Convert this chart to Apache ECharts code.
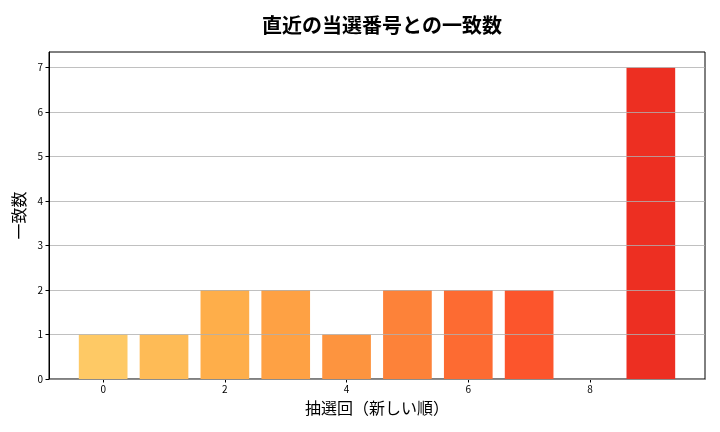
<!DOCTYPE html>
<html lang="ja">
<head>
<meta charset="utf-8" />
<script src="https://cdn.jsdelivr.net/npm/echarts@6/dist/echarts.min.js"></script>
<style>
  html, body { margin: 0; padding: 0; background: #ffffff; }
  #main { width: 720px; height: 432px; }
</style>
</head>
<body>
<div id="main"></div>
<script type="text/javascript">
  // 抽選回（新しい順）と一致数
  var drawIndex = [0, 1, 2, 3, 4, 5, 6, 7, 8, 9];
  var matchCounts = [1, 1, 2, 2, 1, 2, 2, 2, 0, 7];
  var barColors = ['#FEC965', '#FEBB56', '#FEAE4A', '#FEA144', '#FD943F',
                   '#FD8239', '#FD6B32', '#FC552C', '#F64127', '#ED2F22'];
  var xTicks = [0, 2, 4, 6, 8];
  var yTicks = [0, 1, 2, 3, 4, 5, 6, 7];

  var font = '"Noto Sans CJK JP", "Noto Sans", sans-serif';
  var xMin = -0.89, xMax = 9.89;
  var gridLeft = 49, gridRight = 15, gridTop = 52, gridBottom = 53;
  var plotW = 720 - gridLeft - gridRight;
  var barW = plotW / (xMax - xMin) * 0.8;

  var chart = echarts.init(document.getElementById('main'));
  chart.setOption({
    animation: false,
    backgroundColor: '#ffffff',
    title: {
      text: '直近の当選番号との一致数',
      left: 377, top: 10, textAlign: 'center',
      textStyle: { fontFamily: font, fontSize: 20, fontWeight: 'bold', color: '#000' }
    },
    grid: {
      left: gridLeft, right: gridRight, top: gridTop, bottom: gridBottom,
      show: true, borderColor: '#000', borderWidth: 1, backgroundColor: 'transparent'
    },
    xAxis: {
      type: 'value', min: xMin, max: xMax,
      name: '抽選回（新しい順）', nameLocation: 'middle', nameGap: 21,
      nameTextStyle: { fontFamily: font, fontSize: 16, color: '#000' },
      axisLine: { show: true, onZero: false, lineStyle: { color: '#000' } },
      axisTick: { show: true, length: 3.5, customValues: xTicks, lineStyle: { color: '#000' } },
      axisLabel: { customValues: xTicks, fontFamily: font, fontSize: 10, color: '#000', margin: 5 },
      splitLine: { show: false }
    },
    yAxis: {
      type: 'value', min: 0, max: 7.35, interval: 1, z: 5,
      name: '一致数', nameLocation: 'middle', nameGap: 17, nameRotate: 90,
      nameTextStyle: { fontFamily: font, fontSize: 16, color: '#000' },
      axisLine: { show: true, onZero: false, lineStyle: { color: '#000' } },
      axisTick: { show: true, length: 3.5, customValues: yTicks, lineStyle: { color: '#000' } },
      axisLabel: { customValues: yTicks, fontFamily: font, fontSize: 10, color: '#000', margin: 6 },
      splitLine: { show: true, lineStyle: { color: '#b0b0b0', width: 0.8 } }
    },
    series: [{
      type: 'bar',
      barWidth: barW,
      data: drawIndex.map(function (x, i) {
        return { value: [x, matchCounts[i]], itemStyle: { color: barColors[i] } };
      })
    }]
  });
</script>
</body>
</html>
